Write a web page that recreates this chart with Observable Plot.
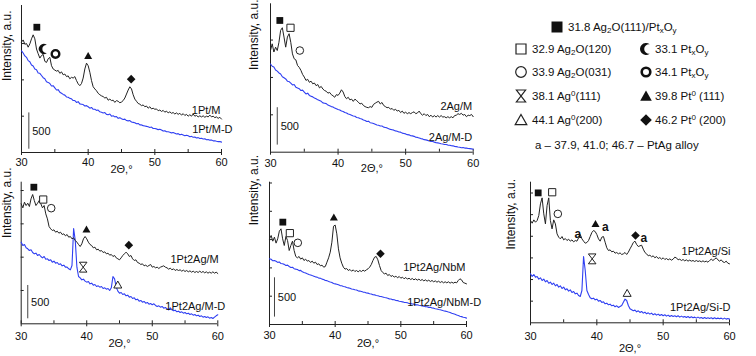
<!DOCTYPE html>
<html><head><meta charset="utf-8">
<script src="https://cdn.jsdelivr.net/npm/d3@7"></script>
<script src="https://cdn.jsdelivr.net/npm/@observablehq/plot@0.6"></script>
<style>
body{margin:0;background:#fff;}
#root{position:relative;width:756px;height:356px;overflow:hidden;font-family:"Liberation Sans",Arial,sans-serif;color:#111;background:#fff;}
.panel{position:absolute;}
.lgt{position:absolute;font-size:11.5px;line-height:14px;white-space:nowrap;color:#111;}
.lgt sub{font-size:8px;vertical-align:-2px;line-height:0;}
.lgt sup{font-size:8px;vertical-align:4px;line-height:0;}
.lgs{position:absolute;overflow:visible;}
</style></head><body><div id="root"></div>
<script>
// ---------- data ----------
const twoTheta = [30,30.25,30.5,30.75,31,31.25,31.5,31.75,32,32.25,32.5,32.75,33,33.25,33.5,33.75,34,34.25,34.5,34.75,35,35.25,35.5,35.75,36,36.25,36.5,36.75,37,37.25,37.5,37.75,38,38.25,38.5,38.75,39,39.25,39.5,39.75,40,40.25,40.5,40.75,41,41.25,41.5,41.75,42,42.25,42.5,42.75,43,43.25,43.5,43.75,44,44.25,44.5,44.75,45,45.25,45.5,45.75,46,46.25,46.5,46.75,47,47.25,47.5,47.75,48,48.25,48.5,48.75,49,49.25,49.5,49.75,50,50.25,50.5,50.75,51,51.25,51.5,51.75,52,52.25,52.5,52.75,53,53.25,53.5,53.75,54,54.25,54.5,54.75,55,55.25,55.5,55.75,56,56.25,56.5,56.75,57,57.25,57.5,57.75,58,58.25,58.5,58.75,59,59.25,59.5,59.75,60];

const i_1PtM = [1520,1550,1490,1500, 1450,1495,1565,1620, 1565,1425,1360,1300, 1335,1350,1255,1240, 1290,1310,1195,1150, 1135,1120,1130,1090, 1110,1070,1080,1045, 1055,1015,1035,1025, 1045,990,945,920, 950,1025,1150,1230, 1195,1105,990,905, 875,850,815,795, 780,770,750,760, 720,735,715,720, 690,715,705,685, 695,715,750,805, 860,905,875,795, 735,705,675,665, 645,655,630,640, 610,630,600,610, 595,600,575,585, 565,580,555,570, 545,560,540,550, 530,545,525,540, 515,535,510,525, 500,520,500,530, 500,510,490,505, 490,505,485,500, 490,515,490,500, 480,490,470,485, 460];
const i_1PtM_D = [1400,1370,1330,1310, 1265,1250,1205,1190, 1150,1140,1095,1090, 1060,1030,1015,975, 965,950,915,920, 890,860,865,830, 815,800,790,765, 760,745,740,715, 715,690,700,670, 665,660,640,645, 630,610,620,595, 595,580,585,560, 555,545,550,525, 520,530,500,505, 490,495,470,480, 465,455,460,440, 435,440,420,415, 410,395,400,380, 380,370,365,360, 355,345,350,330, 330,325,315,320, 310,295,300,285, 285,280,270,275, 265,255,260,245, 250,240,230,238, 230,218,222,210, 212,200,205,192, 195,185,188,175, 180,170,172,160, 162,155,150,152, 143];

const i_2AgM = [1360,1450,1340,1405, 1360,1470,1630,1665, 1540,1405,1540,1585, 1470,1315,1250,1235, 1160,1135,1095,1040, 1005,960,975,935, 950,915,925,890, 905,860,880,845, 825,815,790,800, 770,755,735,770, 760,790,835,805, 745,715,735,700, 710,680,710,690, 670,645,655,625, 610,600,595,610, 600,640,655,670, 680,645,665,625, 610,595,600,575, 585,560,575,550, 560,530,550,520, 535,515,530,515, 530,540,515,525, 550,515,495,515, 490,505,475,495, 470,490,470,490, 470,490,470,475, 460,475,460,475, 460,490,495,515, 505,520,495,505, 475,495,490,505, 475];
const i_2AgM_D = [1180,1150,1140,1100, 1085,1060,1045,1010, 995,980,950,945, 925,900,905,870, 860,850,825,830, 805,780,790,760, 750,740,725,715, 700,690,680,660, 655,650,630,620, 610,605,590,580, 570,565,550,545, 530,525,510,505, 495,485,480,465, 460,450,445,430, 425,410,415,395, 390,385,375,365, 360,350,350,335, 330,325,315,305, 300,295,285,280, 270,268,255,250, 245,235,232,220, 218,212,200,198, 190,182,178,168, 165,158,150,145, 143,135,128,125, 120,112,110,102, 103,95,92,88, 85,78,75,70, 67,60,62,55, 54,50,48,44, 40];

const i_1Pt2AgM = [1800,1740,1825,1775, 1810,1760,1875,1940, 1850,1775,1810,1850, 1800,1740,1775,1650, 1575,1460,1425,1400, 1410,1375,1390,1360, 1375,1340,1350,1320, 1340,1300,1310,1275, 1290,1250,1225,1190, 1160,1200,1275,1310, 1275,1225,1190,1175, 1140,1150,1110,1120, 1090,1100,1070,1080, 1050,1060,1030,1040, 1010,1025,990,975, 960,990,1025,1050, 1075,1050,1010,1025, 975,950,960,920, 910,890,900,870, 880,860,875,890, 850,860,840,850, 830,850,860,870, 850,840,820,835, 810,825,800,815, 800,810,790,805, 785,800,780,795, 775,790,770,785, 770,790,770,785, 765,780,760,775, 760,780,760,775, 755];
const i_1Pt2AgM_D = [1225,1175,1190,1140, 1125,1100,1110,1070, 1050,1060,1025,1040, 1010,990,1010,970, 975,950,960,925, 940,910,920,890, 900,870,880,850, 850,825,810,875, 1430,1250,850,710, 690,660,670,640, 625,635,600,610, 580,590,560,570, 550,560,530,540, 520,530,500,540, 710,675,550,490, 460,470,440,450, 420,430,400,410, 380,390,360,370, 340,350,325,335, 310,320,295,305, 285,300,275,260, 270,250,260,235, 245,225,210,240, 210,195,205,180, 190,170,180,160, 170,150,160,140, 150,130,140,120, 130,110,120,100, 110,95,105,85, 95,80,100,120, 135];

const i_1Pt2AgNbM = [1090,1132,1060,1111, 1035,1090,1187,1217, 1090,1005,1119,1068, 941,1005,1060,941, 865,848,865,831, 848,814,831,806, 814,789,806,780, 793,763,772,746, 755,729,738,793, 848,920,1047,1250, 1265,1153,962,848, 780,729,704,712, 687,700,678,695, 674,687,670,687, 674,691,678,695, 708,729,763,814, 856,865,823,750, 687,661,644,653, 623,636,611,623, 602,615,594,611, 589,602,581,598, 577,589,572,585, 568,581,564,577, 560,572,555,568, 551,564,547,560, 543,555,538,551, 534,547,530,543, 530,543,526,538, 526,538,530,560, 581,568,534,526, 517];
const i_1Pt2AgNbM_D = [835,830,810,815, 805,790,795,775, 772,765,750,755, 738,725,728,710, 704,700,685,688, 670,662,655,645, 636,630,622,615, 606,603,590,588, 577,572,560,558, 547,540,535,522, 517,512,505,495, 492,484,480,470, 466,462,452,448, 441,438,428,425, 420,412,410,400, 399,392,388,378, 377,368,366,358, 356,350,344,340, 335,326,325,316, 314,306,304,295, 292,288,282,280, 276,268,266,260, 259,250,250,244, 242,235,234,226, 225,218,218,210, 208,200,198,190, 187,182,175,170, 165,158,152,142, 136,130,120,114, 106,100,92,88, 81];

const i_1Pt2AgSi = [2364,2302,2379,2325, 2364,2479,2749,2888, 2518,2287,2710,2888, 2364,2171,2379,2287, 2056,1979,1940,1994, 1917,1948,1902,1933, 1887,1917,1871,1902, 1887,1964,2041,1940, 1887,1840,1856,1902, 1994,2087,2133,2110, 2041,1940,1887,1979, 1994,1863,1733,1671, 1686,1640,1656,1609, 1625,1594,1617,1579, 1594,1625,1579,1632, 1709,1779,1856,1887, 1810,1763,1779,1794, 1702,1625,1594,1548, 1563,1525,1548,1502, 1532,1486,1509,1471, 1502,1463,1486,1455, 1478,1448,1471,1517, 1502,1455,1471,1440, 1463,1432,1455,1425, 1448,1425,1440,1417, 1440,1417,1432,1409, 1432,1409,1425,1401, 1440,1471,1440,1471, 1502,1455,1425,1455, 1409,1394,1425,1378, 1363];
const i_1Pt2AgSi_D = [1132,1070,1117,1055, 1070,1009,1040,978, 1009,947,978,916, 939,886,916,855, 886,824,855,793, 824,762,785,731, 762,701,724,670, 685,631,608,747, 1532,1209,747,655, 578,554,570,531, 547,501,516,470, 485,439,454,416, 431,393,408,370, 393,354,377,400, 477,547,516,400, 323,300,277,293, 254,277,239,262, 223,246,208,231, 200,223,185,208, 177,200,169,193, 162,185,154,177, 146,169,146,162, 139,162,131,154, 131,146,123,146, 116,139,116,131, 108,131,108,123, 100,123,100,116, 100,116,92,116, 92,108,92,108, 85,108,85,100, 85];

// peak markers (2θ, intensity, phase symbol)
const markers_1PtM = [{x:32.3,y:1725,k:"sqFill"},{x:33.35,y:1426,k:"moon"},{x:35.1,y:1357,k:"ring"},{x:40.0,y:1330,k:"triFill"},{x:46.45,y:1010,k:"diamond"}];
const markers_2AgM = [{x:31.38,y:1762,k:"sqFill"},{x:32.96,y:1664,k:"sqOpen"},{x:34.34,y:1360,k:"circOpen"}];
const markers_1Pt2AgM = [{x:31.93,y:2050,k:"sqFill"},{x:33.36,y:1865,k:"sqOpen"},{x:34.58,y:1735,k:"circOpen"},{x:39.96,y:1420,k:"triFill"},{x:39.46,y:850,k:"hourglass"},{x:46.42,y:1180,k:"diamond"},{x:44.74,y:585,k:"triOpen"}];
const markers_1Pt2AgNbM = [{x:32.03,y:1302,k:"sqFill"},{x:33.1,y:1162,k:"sqOpen"},{x:34.31,y:1039,k:"circOpen"},{x:39.8,y:1365,k:"triFill"},{x:46.9,y:900,k:"diamond"}];
const markers_1Pt2AgSi = [{x:31.16,y:3003,k:"sqFill"},{x:33.27,y:3018,k:"sqOpen"},{x:34.12,y:2518,k:"circOpen"},{x:37.14,y:2040,k:"a"},{x:39.8,y:2287,k:"triFill"},{x:41.3,y:2210,k:"a"},{x:39.3,y:1478,k:"hourglass"},{x:45.83,y:2017,k:"diamond"},{x:47.09,y:1956,k:"a"},{x:44.57,y:685,k:"triOpen"}];

// sample labels
const labels_1PtM = [{t:"1Pt/M",x:59.85,y:575},{t:"1Pt/M-D",x:55.6,y:322}];
const labels_2AgM = [{t:"2Ag/M",x:59.85,y:611},{t:"2Ag/M-D",x:59.85,y:196}];
const labels_1Pt2AgM = [{t:"1Pt2Ag/M",x:60.15,y:960},{t:"1Pt2Ag/M-D",x:52.0,y:260}];
const labels_1Pt2AgNbM = [{t:"1Pt2Ag/NbM",x:59.85,y:729},{t:"1Pt2Ag/NbM-D",x:50.96,y:284}];
const labels_1Pt2AgSi = [{t:"1Pt2Ag/Si",x:60.15,y:1648},{t:"1Pt2Ag/Si-D",x:60.15,y:362}];

// 500-count scale bars: [x, bottom, top]
const bar_1PtM = [31.1, 45, 545];
const bar_2AgM = [31.0, 95, 595];
const bar_1Pt2AgM = [31.0, 75, 575];
const bar_1Pt2AgNbM = [30.76, 94, 594];
const barText = "500";

const xMajor = [30, 40, 50, 60];
const xMinor = [35, 45, 55];
const yTicks_1PtM = [500, 1000, 1500];
const yTicks_2AgM = [500, 1000, 1500];
const yTicks_1Pt2AgM = [500, 1000, 1500, 2000];
const yTicks_1Pt2AgNbM = [360, 720, 1080, 1440, 1800];
const yTicks_1Pt2AgSi = [500, 1000, 1500, 2000, 2500, 3000];

const xTitle = "2Θ,°";
const yTitle = "Intensity, a.u.";

const legendRows = [
  [["sqFill","31.8 Ag<sub>2</sub>O(111)/Pt<sub>x</sub>O<sub>y</sub>"]],
  [["sqOpen","32.9 Ag<sub>2</sub>O(120)"],["moon","33.1 Pt<sub>x</sub>O<sub>y</sub>"]],
  [["circOpen","33.9 Ag<sub>2</sub>O(031)"],["ring","34.1 Pt<sub>x</sub>O<sub>y</sub>"]],
  [["hourglass","38.1 Ag<sup>0</sup>(111)"],["triFill","39.8 Pt<sup>0</sup> (111)"]],
  [["triOpen","44.1 Ag<sup>0</sup>(200)"],["diamond","46.2 Pt<sup>0</sup> (200)"]]
];
const legendNote = "a – 37.9, 41.0; 46.7 – PtAg alloy";

// ---------- symbols ----------
function makeSym(fn){ return {draw(c, size){ const R = Math.sqrt(size/Math.PI); fn(c, R); }}; }
const sqDraw = (c,R)=>{ c.rect(-R,-R,2*R,2*R); };
const circDraw = (c,R)=>{ c.moveTo(R,0); c.arc(0,0,R,0,2*Math.PI); };
const triDraw = (c,R)=>{ c.moveTo(0,-0.95*R); c.lineTo(R,0.8*R); c.lineTo(-R,0.8*R); c.closePath(); };
const SYM = {
  sqFill: makeSym(sqDraw), sqOpen: makeSym(sqDraw),
  circOpen: makeSym(circDraw), ring: makeSym(circDraw),
  triFill: makeSym(triDraw), triOpen: makeSym(triDraw),
  diamond: makeSym((c,R)=>{ c.moveTo(0,-R); c.lineTo(R,0); c.lineTo(0,R); c.lineTo(-R,0); c.closePath(); }),
  hourglass: makeSym((c,R)=>{ const h=1.3*R; c.moveTo(-R,-h); c.lineTo(R,-h); c.lineTo(-R,h); c.lineTo(R,h); c.closePath(); }),
  moon: makeSym((c,R)=>{ c.moveTo(R*Math.cos(-0.913), R*Math.sin(-0.913)); c.arc(0,0,R,-0.913,0.913,true); c.arc(0.5*R,0,0.8*R,1.43,-1.43,false); c.closePath(); })
};
const STY = {
  sqFill:{fill:"#111",stroke:"none",r:3.4,lr:5.5},
  sqOpen:{fill:"white",stroke:"#222",strokeWidth:1,r:3.6,lr:5},
  circOpen:{fill:"white",stroke:"#222",strokeWidth:1,r:3.8,lr:5.3},
  ring:{fill:"white",stroke:"#111",strokeWidth:2.4,r:3.8,lr:4.3},
  moon:{fill:"#111",stroke:"none",r:5,lr:6},
  triFill:{fill:"#111",stroke:"none",r:4,lr:5.8},
  triOpen:{fill:"white",stroke:"#222",strokeWidth:1,r:4,lr:5.8},
  diamond:{fill:"#111",stroke:"none",r:4.3,lr:5.8},
  hourglass:{fill:"white",stroke:"#222",strokeWidth:1,r:3.8,lr:4.6}
};

// ---------- layout ----------
const panels = [
  {b:i_1PtM, d:i_1PtM_D, m:markers_1PtM, l:labels_1PtM, anchors:["end","start"], bar:bar_1PtM, yt:yTicks_1PtM,
   left:0, top:0, w:250, h:180, x0:21, x1:221, yAxis:152, yTop:5, yMax:2024, tp:3, xtDy:20, ytDx:-14, ytDy:2},
  {b:i_2AgM, d:i_2AgM_D, m:markers_2AgM, l:labels_2AgM, anchors:["end","end"], bar:bar_2AgM, yt:yTicks_2AgM,
   left:238, top:0, w:262, h:180, x0:270, x1:472.7, yAxis:151.7, yTop:3.3, yMax:1985, tp:4, xtDy:20, ytDx:-16, ytDy:-8},
  {b:i_1Pt2AgM, d:i_1Pt2AgM_D, m:markers_1Pt2AgM, l:labels_1Pt2AgM, anchors:["end","start"], bar:bar_1Pt2AgM, yt:yTicks_1Pt2AgM,
   left:0, top:176, w:250, h:180, x0:20.7, x1:217.3, yAxis:323.3, yTop:181.7, yMax:2125, tp:5, xtDy:23, ytDx:-14, ytDy:-15},
  {b:i_1Pt2AgNbM, d:i_1Pt2AgNbM_D, m:markers_1Pt2AgNbM, l:labels_1Pt2AgNbM, anchors:["end","start"], bar:bar_1Pt2AgNbM, yt:yTicks_1Pt2AgNbM,
   left:238, top:176, w:262, h:180, x0:269, x1:466, yAxis:324, yTop:181.7, yMax:1810, tp:4, xtDy:22, ytDx:-15, ytDy:-28},
  {b:i_1Pt2AgSi, d:i_1Pt2AgSi_D, m:markers_1Pt2AgSi, l:labels_1Pt2AgSi, anchors:["end","end"], bar:null, yt:yTicks_1Pt2AgSi,
   left:496, top:176, w:260, h:180, x0:530, x1:729, yAxis:322.3, yTop:181.7, yMax:3250, tp:6, xtDy:29, ytDx:-19, ytDy:-3}
];

const root = document.getElementById("root");
const FONT = "'Liberation Sans', Arial, sans-serif";

for (const p of panels) {
  const black = twoTheta.map((x,i)=>({x, y:p.b[i]}));
  const blue = twoTheta.map((x,i)=>({x, y:p.d[i]}));
  const marks = [
    Plot.ruleY([0], {stroke:"#222", strokeWidth:1}),
    Plot.ruleX([30], {stroke:"#222", strokeWidth:1}),
    Plot.axisY(p.yt, {tickSize:-3, tickFormat:()=>"", label:null, stroke:"#222"}),
    Plot.axisX(xMajor, {tickSize:3, tickPadding:p.tp, label:null, fontSize:11, fill:"#111", stroke:"#222"}),
    Plot.axisX(xMajor, {tickSize:-3, tickFormat:()=>"", label:null, stroke:"#222"}),
    Plot.axisX(xMinor, {tickSize:-3, tickFormat:()=>"", label:null, stroke:"#222"}),
    Plot.line(blue, {x:"x", y:"y", stroke:"#2f3ff2", strokeWidth:1.1}),
    Plot.line(black, {x:"x", y:"y", stroke:"#222", strokeWidth:1})
  ];
  for (const k of Object.keys(STY)) {
    const sub = p.m.filter(d=>d.k===k);
    if (!sub.length) continue;
    const s = STY[k];
    marks.push(Plot.dot(sub, {x:"x", y:"y", symbol:SYM[k], r:s.r, fill:s.fill, stroke:s.stroke, strokeWidth:s.strokeWidth||1}));
  }
  const aa = p.m.filter(d=>d.k==="a");
  if (aa.length) marks.push(Plot.text(aa, {x:"x", y:"y", text:()=> "a", fontSize:12, fontWeight:"bold", fill:"#111"}));
  p.l.forEach((lab,i)=> marks.push(Plot.text([lab], {x:"x", y:"y", text:"t", textAnchor:p.anchors[i], fontSize:11, fill:"#111"})));
  if (p.bar) {
    marks.push(Plot.ruleX([p.bar], {x:d=>d[0], y1:d=>d[1], y2:d=>d[2], stroke:"#444", strokeWidth:1}));
    marks.push(Plot.text([p.bar], {x:d=>d[0]+0.5, y:d=>(d[1]+d[2])/2, text:()=>barText, textAnchor:"start", fontSize:11, fill:"#111"}));
  }
  marks.push(Plot.text([xTitle], {frameAnchor:"bottom", dy:p.xtDy, fontSize:11, fill:"#111"}));
  marks.push(Plot.text([yTitle], {frameAnchor:"left", rotate:-90, dx:p.ytDx, dy:p.ytDy, fontSize:12, fill:"#111"}));

  const svg = Plot.plot({
    width:p.w, height:p.h,
    marginLeft:p.x0-p.left, marginRight:p.left+p.w-p.x1,
    marginTop:p.yTop-p.top, marginBottom:p.top+p.h-p.yAxis,
    x:{domain:[30,60]}, y:{domain:[0,p.yMax]},
    style:{background:"transparent", fontFamily:FONT, fontSize:"11px", color:"#111", overflow:"visible"},
    marks
  });
  const div = document.createElement("div");
  div.className = "panel";
  div.style.left = p.left+"px"; div.style.top = p.top+"px";
  div.appendChild(svg);
  root.appendChild(div);
}

// ---------- legend ----------
const rowY = [27, 49, 72, 96, 120];
const colX = [521, 646];
function addSym(k, cx, cy) {
  const s = STY[k];
  const path = d3.path();
  SYM[k].draw(path, Math.PI*s.lr*s.lr);
  const ns = "http://www.w3.org/2000/svg";
  const svg = document.createElementNS(ns, "svg");
  svg.setAttribute("class","lgs"); svg.setAttribute("width",20); svg.setAttribute("height",20);
  svg.style.left = (cx-10)+"px"; svg.style.top = (cy-10)+"px";
  const pe = document.createElementNS(ns, "path");
  pe.setAttribute("d", path.toString());
  pe.setAttribute("transform","translate(10,10)");
  pe.setAttribute("fill", s.fill);
  pe.setAttribute("stroke", s.stroke);
  pe.setAttribute("stroke-width", k==="ring" ? 2.6 : 1.2);
  svg.appendChild(pe);
  root.appendChild(svg);
}
function addText(html, x, cy) {
  const d = document.createElement("div");
  d.className = "lgt"; d.innerHTML = html;
  d.style.left = x+"px"; d.style.top = (cy-7)+"px";
  root.appendChild(d);
}
legendRows.forEach((row, r)=>{
  row.forEach(([k, html], c)=>{
    const cx = r===0 ? 557 : colX[c];
    addSym(k, cx, rowY[r]);
    addText(html, cx + (r===0 || c===0 ? 11 : 9), rowY[r]);
  });
});
addText(legendNote, 535, 145);
</script>
</body></html>
